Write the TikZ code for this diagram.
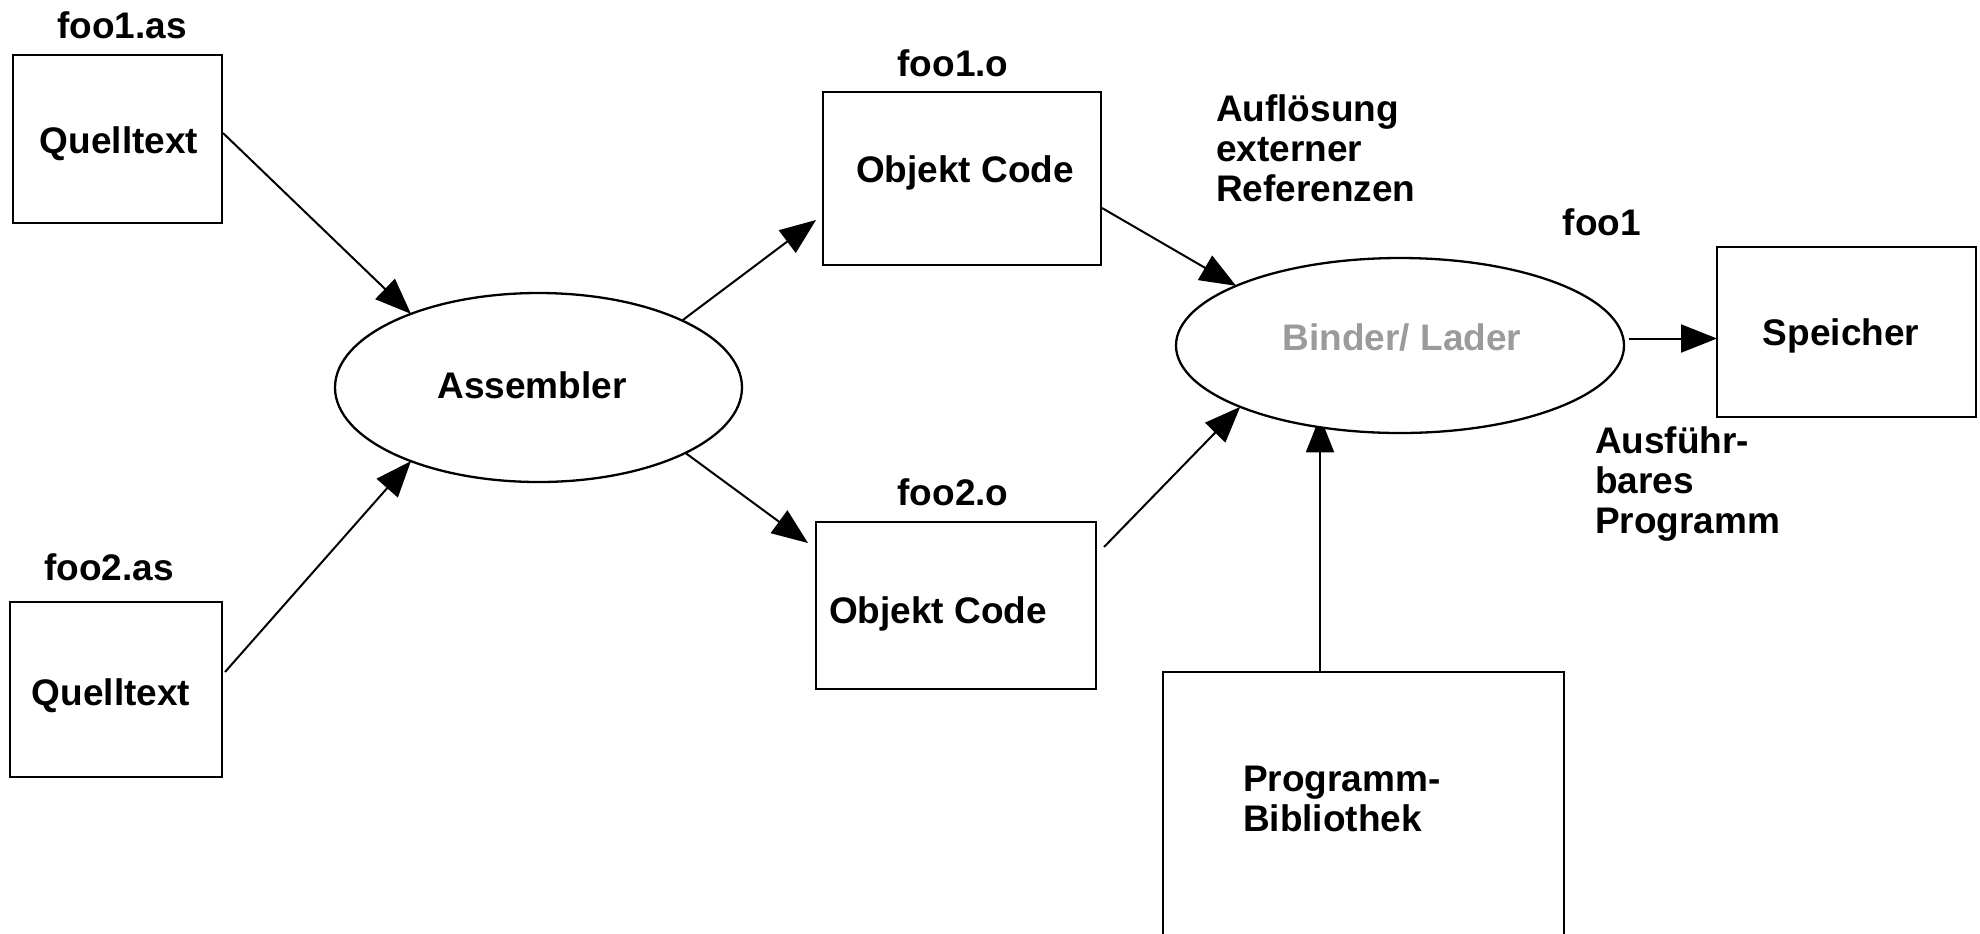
\documentclass[tikz,border=0pt]{standalone}
\usepackage{fontspec}
\setmainfont{Liberation Sans}
\usetikzlibrary{arrows.meta,shapes.geometric,backgrounds}
\definecolor{bindergray}{RGB}{155,155,155}
\tikzset{
  txt/.style={font=\fontsize{18.5}{20}\selectfont\bfseries, inner sep=0pt, outer sep=0pt, text depth=0pt},
  mtxt/.style={font=\fontsize{18.5}{20}\selectfont\bfseries, inner sep=0pt, outer sep=0pt, align=left, anchor=north west},
  box/.style 2 args={draw, line width=1.15pt, inner sep=0pt, outer sep=0pt, minimum width=#1*0.5pt, minimum height=#2*0.5pt},
  oval/.style 2 args={draw, fill=white, ellipse, line width=1.15pt, inner sep=0pt, outer sep=0pt, minimum width=#1*0.5pt, minimum height=#2*0.5pt},
  arr/.style={-{Triangle[length=18pt,width=14pt]}, line width=1pt}
}
\begin{document}
\begin{tikzpicture}[x=0.5pt,y=-0.5pt]
\useasboundingbox (0,0) rectangle (1980,933);
\clip (0,0) rectangle (1980,933);

% boxes and ellipses
\node[box={209}{168}] (src1) at (117.5,139) {};
\node[box={212}{175}] (src2) at (116,689.5) {};
\node[oval={407}{189}] (asm) at (538.5,387.5) {};
\node[box={278}{173}] (o1) at (962,178.5) {};
\node[box={280}{167}] (o2) at (956,605.5) {};
\node[oval={448}{175}] (binder) at (1400,345.5) {};
\node[box={259}{170}] (mem) at (1846.5,332) {};
\node[box={401}{328}] (lib) at (1363.5,836) {};

% texts
\node[txt] (l1) at (122,25) {foo1.as};
\node[txt] (t1) at (119,140) {Quelltext};
\node[txt] (l2) at (109,567) {foo2.as};
\node[txt] (t2) at (111,692) {Quelltext};
\node[txt] (tasm) at (532,385) {Assembler};
\node[txt] (lo1) at (953,63) {foo1.o};
\node[txt] (to1) at (965,169) {Objekt Code};
\node[txt] (lo2) at (953,492) {foo2.o};
\node[txt] (to2) at (938,610) {Objekt Code};
\node[txt] (lfoo) at (1602,222) {foo1};
\node[txt, text=bindergray] (tbinder) at (1402,337) {Binder/ Lader};
\node[txt] (tmem) at (1841,332) {Speicher};
\node[mtxt] (aufl) at (1216,95) {Auflösung\\externer\\Referenzen};
\node[mtxt] (ausf) at (1595,427) {Ausführ-\\bares\\Programm};
\node[mtxt] (tlib) at (1243,766) {Programm-\\Bibliothek};

% connectors
\draw[arr] ([shift={(1,-6)}]src1.east) -- (asm.150);
\draw[arr] ([shift={(3,-17.5)}]src2.east) -- (asm.210);
\draw[arr] (asm.25) -- ([shift={(-7,41.5)}]o1.west);
\draw[arr] (asm.336) -- ([shift={(-8,-62.5)}]o2.west);
\draw[arr] ([shift={(1,29.5)}]o1.east) -- (binder.160);
\draw[arr] ([shift={(8,-58.5)}]o2.east) -- (binder.201);
\coordinate (bs) at ([shift={(5,-7)}]binder.east);
\draw[arr] (bs) -- (bs -| mem.west);
\coordinate (lt) at ([shift={(-43.5,0)}]lib.north);
\coordinate (lb) at (lt |- binder.226);
\begin{pgfonlayer}{background}
\draw[arr] (lt) -- ([yshift=5.5pt]lb);
\end{pgfonlayer}
\end{tikzpicture}
\end{document}
